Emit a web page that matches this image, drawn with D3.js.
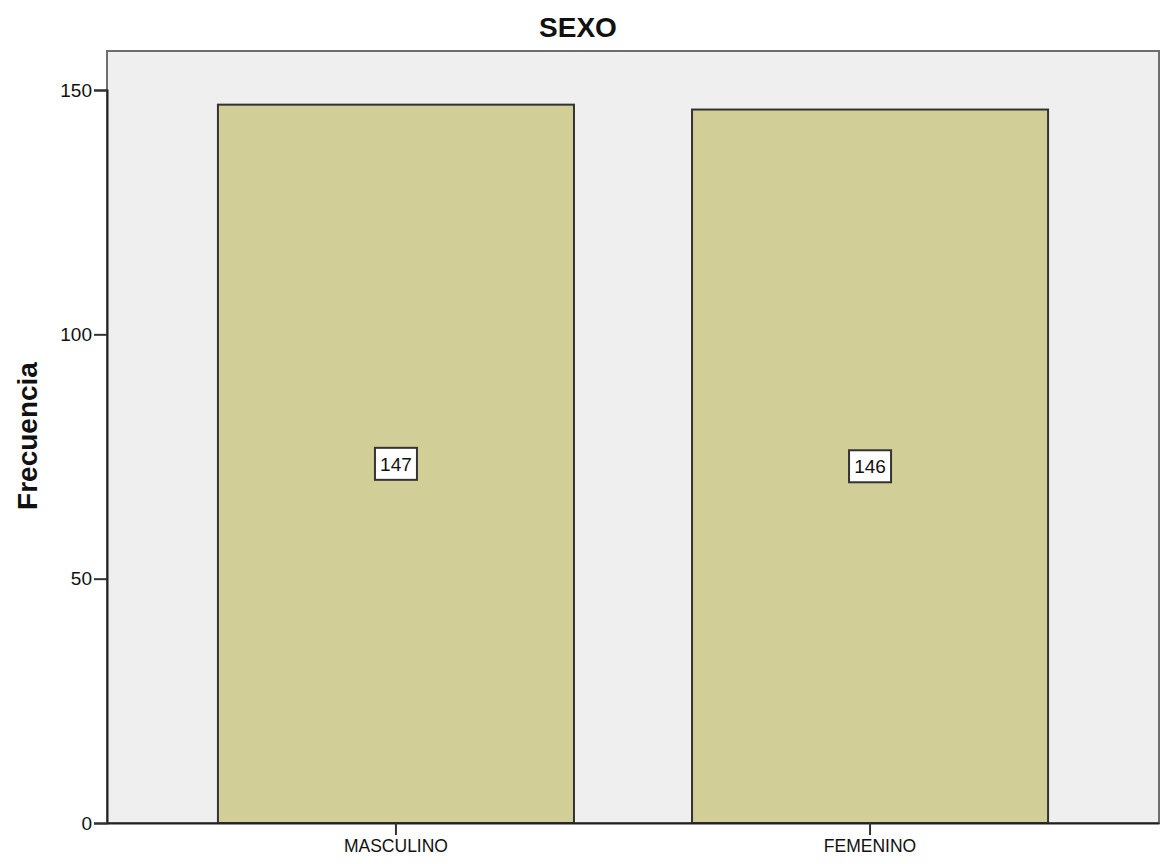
<!DOCTYPE html>
<html><head><meta charset="utf-8">
<script src="https://cdn.jsdelivr.net/npm/d3@7"></script>
<style>body{margin:0;background:#fff}svg{display:block}</style>
</head><body>
<svg id="c" width="1160" height="864"></svg>
<script>
const categories = ["MASCULINO", "FEMENINO"];
const values = [147, 146];
const yTicks = [0, 50, 100, 150];
const title = "SEXO";
const yLabel = "Frecuencia";

const svg = d3.select("#c");
const L = 107, R = 1159, T = 51, B = 823;
const x = d3.scaleBand().domain(categories).range([L, R]).paddingInner(0.249).paddingOuter(0.234);
const y = d3.scaleLinear().domain([0, 150]).range([B, 90]);
const font = "Arial, 'Liberation Sans', sans-serif";

svg.append("rect").attr("x", L).attr("y", T).attr("width", R - L).attr("height", B - T)
  .attr("fill", "#efefef").attr("stroke", "#6e6e6e").attr("stroke-width", 2);

svg.selectAll("rect.bar").data(values).join("rect").attr("class", "bar")
  .attr("x", (d, i) => x(categories[i])).attr("y", d => y(d))
  .attr("width", x.bandwidth()).attr("height", d => B - y(d))
  .attr("fill", "#d2ce97").attr("stroke", "#333").attr("stroke-width", 2);

// value labels
const lab = svg.selectAll("g.lab").data(values).join("g").attr("class", "lab")
  .attr("transform", (d, i) => `translate(${x(categories[i]) + x.bandwidth() / 2},${y(d / 2)})`);
lab.append("rect").attr("x", -21).attr("y", -16).attr("width", 42).attr("height", 32)
  .attr("fill", "#fff").attr("stroke", "#333").attr("stroke-width", 2);
lab.append("text").attr("text-anchor", "middle").attr("dy", "0.36em")
  .attr("font-family", font).attr("font-size", 19).attr("fill", "#111").text(d => d);

// y axis
const ya = svg.append("g").attr("transform", `translate(${L},0)`)
  .call(d3.axisLeft(y).tickValues(yTicks).tickSize(13).tickPadding(2).tickFormat(d3.format("d")));
ya.select(".domain").attr("stroke", "#222").attr("stroke-width", 2);
ya.selectAll(".tick line").attr("stroke", "#333").attr("stroke-width", 2);
ya.selectAll(".tick text").attr("font-family", font).attr("font-size", 19).attr("fill", "#111");

// x axis
const xa = svg.append("g").attr("transform", `translate(0,${B})`)
  .call(d3.axisBottom(x).tickSize(12).tickPadding(5).tickSizeOuter(0));
xa.select(".domain").attr("stroke", "#222").attr("stroke-width", 2);
xa.selectAll(".tick line").attr("stroke", "#333").attr("stroke-width", 2);
xa.selectAll(".tick text").attr("font-family", font).attr("font-size", 17.5).attr("fill", "#111");

svg.append("text").attr("x", 578).attr("y", 37).attr("text-anchor", "middle")
  .attr("font-family", font).attr("font-weight", "bold").attr("font-size", 28).attr("fill", "#111").text(title);

svg.append("text").attr("transform", "translate(37,436) rotate(-90)").attr("text-anchor", "middle")
  .attr("font-family", font).attr("font-weight", "bold").attr("font-size", 28).attr("fill", "#111").text(yLabel);
</script>
</body></html>
